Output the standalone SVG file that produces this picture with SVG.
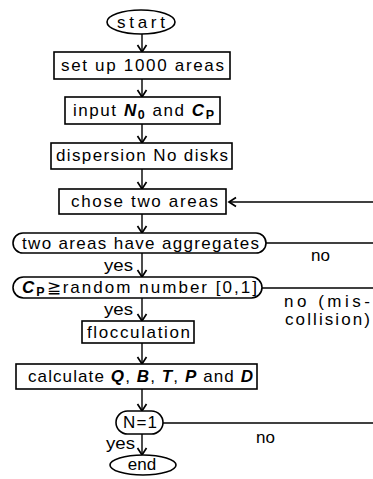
<svg xmlns="http://www.w3.org/2000/svg" width="373" height="479" viewBox="0 0 373 479">
  <style>
    .shape { fill: #fff; stroke: #000; stroke-width: 1.6; }
    .line { fill: none; stroke: #000; stroke-width: 1.4; }
    .lbl { font-family: "Liberation Sans", Arial, sans-serif; font-size: 17px; fill: #000; }
    .mid { text-anchor: middle; }
    .v { font-weight: bold; font-style: italic; }
    .s { font-weight: bold; font-size: 12.5px; }
  </style>
  <defs>
    <!-- open V arrowhead, drawn pointing along +x so orient="auto" turns it with the line -->
    <marker id="arr" markerWidth="10" markerHeight="12" refX="8" refY="6" orient="auto" markerUnits="userSpaceOnUse">
      <path d="M1,1.5 L8,6 L1,10.5" fill="none" stroke="#000" stroke-width="1.7"/>
    </marker>
  </defs>

  <!-- connectors -->
  <g id="connectors">
    <line class="line" x1="142" y1="34" x2="142" y2="52" marker-end="url(#arr)"/>
    <line class="line" x1="142" y1="79" x2="142" y2="97" marker-end="url(#arr)"/>
    <line class="line" x1="142" y1="124" x2="142" y2="143" marker-end="url(#arr)"/>
    <line class="line" x1="142" y1="169" x2="142" y2="189" marker-end="url(#arr)"/>
    <line class="line" x1="142" y1="214" x2="142" y2="233" marker-end="url(#arr)"/>
    <line class="line" x1="142" y1="253" x2="142" y2="277" marker-end="url(#arr)"/>
    <line class="line" x1="142" y1="298" x2="142" y2="321" marker-end="url(#arr)"/>
    <line class="line" x1="142" y1="343" x2="142" y2="364" marker-end="url(#arr)"/>
    <line class="line" x1="142" y1="389" x2="142" y2="411" marker-end="url(#arr)"/>
    <line class="line" x1="142" y1="434" x2="142" y2="455" marker-end="url(#arr)"/>
    <!-- loop back into "chose two areas" -->
    <line class="line" x1="373" y1="202" x2="229" y2="202" marker-end="url(#arr)"/>
    <!-- "no" exits -->
    <line class="line" x1="266" y1="243" x2="373" y2="243"/>
    <line class="line" x1="262" y1="288" x2="373" y2="288"/>
    <line class="line" x1="163" y1="423" x2="373" y2="423"/>
    <text class="lbl" x="311" y="261">no</text>
    <text class="lbl" x="284" y="307" textLength="86" lengthAdjust="spacing">no  (mis-</text>
    <text class="lbl" x="285" y="325" textLength="85" lengthAdjust="spacing">collision)</text>
    <text class="lbl" x="256" y="443">no</text>
    <text class="lbl" x="104" y="271" textLength="29" lengthAdjust="spacingAndGlyphs">yes</text>
    <text class="lbl" x="104" y="315" textLength="29" lengthAdjust="spacingAndGlyphs">yes</text>
    <text class="lbl" x="106" y="449" textLength="29" lengthAdjust="spacingAndGlyphs">yes</text>
  </g>

  <g id="start">
    <ellipse class="shape" cx="141" cy="22" rx="34" ry="12"/>
    <text class="lbl mid" x="141" y="28" textLength="48" lengthAdjust="spacing">start</text>
  </g>

  <g id="setup">
    <rect class="shape" x="54" y="52" width="176" height="27"/>
    <text class="lbl" x="61" y="71" textLength="163" lengthAdjust="spacing">set up 1000 areas</text>
  </g>

  <g id="input">
    <rect class="shape" x="65" y="97" width="155" height="27"/>
    <text class="lbl" x="73" y="116" textLength="141" lengthAdjust="spacing">input <tspan class="v">N</tspan><tspan class="s" dy="3">0</tspan><tspan dy="-3"> and </tspan><tspan class="v">C</tspan><tspan class="s" dy="3">P</tspan></text>
  </g>

  <g id="dispersion">
    <rect class="shape" x="51" y="143" width="181" height="26"/>
    <text class="lbl" x="56" y="161" textLength="172" lengthAdjust="spacing">dispersion No disks</text>
  </g>

  <g id="chose">
    <rect class="shape" x="59" y="189" width="167" height="25"/>
    <text class="lbl" x="71" y="207" textLength="147" lengthAdjust="spacing">chose two areas</text>
  </g>

  <g id="aggregates">
    <rect class="shape" x="13" y="233" width="253" height="20" rx="10"/>
    <text class="lbl" x="22" y="249" textLength="237" lengthAdjust="spacing">two areas have aggregates</text>
  </g>

  <g id="random">
    <rect class="shape" x="13" y="277" width="249" height="21" rx="10.5"/>
    <text class="lbl" x="22" y="293" textLength="235" lengthAdjust="spacing"><tspan class="v">C</tspan><tspan class="s" dy="3">P</tspan><tspan dy="-3">≧random number [0,1]</tspan></text>
  </g>

  <g id="flocculation">
    <rect class="shape" x="82" y="321" width="112" height="22"/>
    <text class="lbl" x="87" y="338" textLength="103" lengthAdjust="spacing">flocculation</text>
  </g>

  <g id="calculate">
    <rect class="shape" x="16" y="364" width="241" height="25"/>
    <text class="lbl" x="28" y="382" textLength="225" lengthAdjust="spacing">calculate <tspan class="v">Q</tspan>, <tspan class="v">B</tspan>, <tspan class="v">T</tspan>, <tspan class="v">P</tspan> and <tspan class="v">D</tspan></text>
  </g>

  <g id="n1">
    <rect class="shape" x="116" y="411" width="47" height="23" rx="11.5"/>
    <text class="lbl mid" x="140" y="428" textLength="34" lengthAdjust="spacing">N=1</text>
  </g>

  <g id="end">
    <ellipse class="shape" cx="143" cy="465" rx="33" ry="10"/>
    <text class="lbl mid" x="142" y="470">end</text>
  </g>
</svg>
